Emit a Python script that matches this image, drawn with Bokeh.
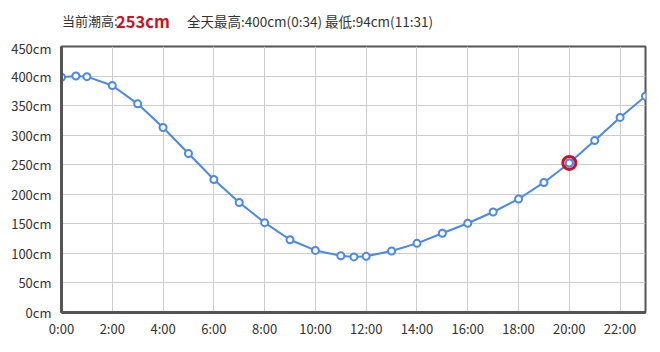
from bokeh.plotting import figure
from bokeh.models import FixedTicker, PrintfTickFormatter, Range1d, Div
from bokeh.layouts import column
from bokeh.embed import file_html
from bokeh.resources import INLINE

hours = [0, 0.567, 1, 2, 3, 4, 5, 6, 7, 8, 9, 10, 11, 11.517, 12, 13, 14, 15, 16, 17, 18, 19, 20, 21, 22, 23]
heights = [398, 400, 399, 384, 353, 313, 269, 225, 186, 152, 123, 105, 96, 94, 95, 104, 117, 134, 151, 170, 192, 220, 253, 291, 330, 366]
current_hour = [20]
current_height = [253]
x_ticks = [0, 2, 4, 6, 8, 10, 12, 14, 16, 18, 20, 22]
x_tick_labels = ["0:00", "2:00", "4:00", "6:00", "8:00", "10:00", "12:00", "14:00", "16:00", "18:00", "20:00", "22:00"]
y_ticks = [0, 50, 100, 150, 200, 250, 300, 350, 400, 450]
title_prefix = "当前潮高:"
title_value = "253cm"
title_rest = "全天最高:400cm(0:34) 最低:94cm(11:31)"

FONT = "Noto Sans CJK SC"

header = Div(width=652, height=38, margin=0, text=(
    "<div style=\"position:relative;width:652px;height:38px;font-family:'Noto Sans CJK SC';color:#333333;\">"
    f"<span style=\"position:absolute;left:62px;top:13px;font-size:13px;line-height:16px;white-space:nowrap;\">{title_prefix}</span>"
    f"<span style=\"position:absolute;left:116px;top:11px;font-size:16.5px;line-height:20px;font-weight:bold;color:#cc1122;white-space:nowrap;\">{title_value}</span>"
    f"<span style=\"position:absolute;left:187px;top:13px;font-size:13.5px;line-height:16px;white-space:nowrap;\">{title_rest}</span>"
    "</div>"))

p = figure(width=652, height=306, output_backend="svg", toolbar_location=None,
           x_range=Range1d(0, 23), y_range=Range1d(0, 450),
           min_border_left=61, min_border_right=7, min_border_top=8, min_border_bottom=32, margin=0)
p.background_fill_color = "white"
p.border_fill_color = "white"
p.outline_line_color = "#555555"
p.outline_line_width = 2

for ax in (p.xaxis[0], p.yaxis[0]):
    ax.axis_line_color = "#555555"
    ax.axis_line_width = 3
    ax.major_tick_line_color = None
    ax.minor_tick_line_color = None
    ax.major_label_text_font = FONT
    ax.major_label_text_font_size = "13px"
    ax.major_label_text_color = "#333333"

p.xaxis.ticker = FixedTicker(ticks=x_ticks)
p.xaxis.major_label_overrides = {t: l for t, l in zip(x_ticks, x_tick_labels)}
p.xaxis.major_label_standoff = 0
p.yaxis.ticker = FixedTicker(ticks=y_ticks)
p.yaxis.formatter = PrintfTickFormatter(format="%dcm")
p.yaxis.major_label_standoff = 4

p.xgrid.grid_line_color = "#cccccc"
p.ygrid.grid_line_color = "#cccccc"
p.xgrid.ticker = FixedTicker(ticks=x_ticks)
p.ygrid.ticker = FixedTicker(ticks=y_ticks)

p.line(hours, heights, line_color="#4a88ee", line_width=2)
p.scatter(hours, heights, size=7, fill_color="white", line_color="#4a88ee", line_width=2)
p.scatter(current_hour, current_height, size=13, fill_color=None, line_color="#cc1122", line_width=3)
p.scatter(current_hour, current_height, size=7, fill_color="white", line_color="#4a88ee", line_width=2)

layout = column(header, p, spacing=0, margin=0)
open("out.html", "w").write(file_html(layout, INLINE))
